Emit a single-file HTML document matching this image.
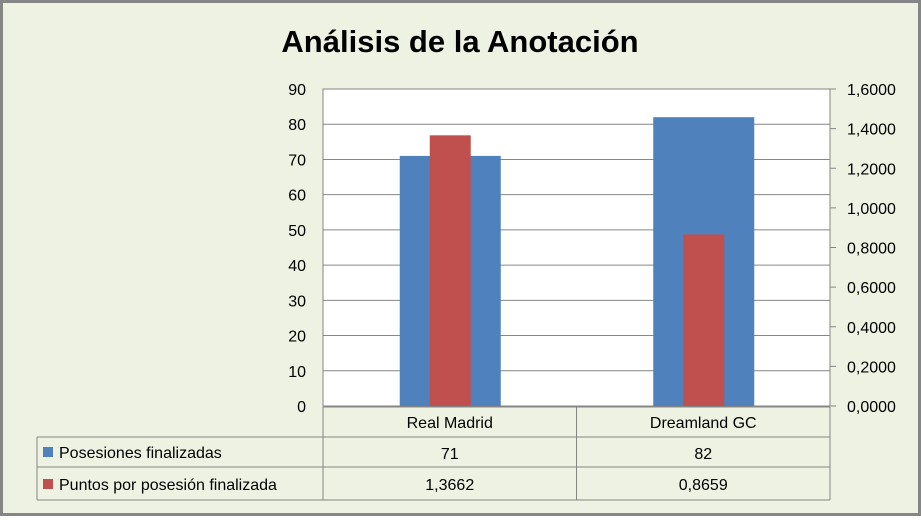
<!DOCTYPE html>
<html><head><meta charset="utf-8"><style>
body{margin:0;background:#fff}
svg text{font-family:"Liberation Sans",sans-serif}
</style></head><body>
<svg width="921" height="516" xmlns="http://www.w3.org/2000/svg">
<rect x="1.5" y="1.5" width="918" height="513" fill="#eef2e3" stroke="#868686" stroke-width="3"/>
<text x="460" y="52" text-anchor="middle" font-size="31" font-weight="bold">Análisis de la Anotación</text>
<rect x="323" y="89" width="507" height="317" fill="#fff" stroke="#868686"/>
<g id="grid"></g><g id="bars"></g><g id="axes"></g><g id="table"></g>
</svg>
<script>
const categories=["Real Madrid","Dreamland GC"];
const posesiones=[71,82];
const puntos=[1.3662,0.8659];
const leftTicks=[0,10,20,30,40,50,60,70,80,90];
const rightTicks=["0,0000","0,2000","0,4000","0,6000","0,8000","1,0000","1,2000","1,4000","1,6000"];
const seriesNames=["Posesiones finalizadas","Puntos por posesión finalizada"];
const puntosLabels=["1,3662","0,8659"];
const NS="http://www.w3.org/2000/svg";
const X0=323,X1=830,Y0=406,Y1=89;
const yL=v=>Y0-(v/90)*(Y0-Y1);
const yR=v=>Y0-(v/1.6)*(Y0-Y1);
const catW=(X1-X0)/categories.length;
const cx=i=>X0+catW*(i+0.5);
function el(tag,attrs,parent,txt){const e=document.createElementNS(NS,tag);for(const k in attrs)e.setAttribute(k,attrs[k]);if(txt!=null)e.textContent=txt;document.getElementById(parent).appendChild(e);return e;}
leftTicks.forEach((t,i)=>{
  if(i>0){const g=el('line',{x1:X0,x2:X1,y1:yL(t),y2:yL(t),stroke:'#868686'},'grid');}
  const tx=el('text',{x:306,y:yL(t)+6,'text-anchor':'end','font-size':16},'axes',String(t));
  
});
rightTicks.forEach((t,i)=>{
  const y=yR(i*0.2);
  const tk=el('line',{x1:X1,x2:X1+6,y1:y,y2:y,stroke:'#868686'},'axes');
  
  const tx=el('text',{x:847,y:y+6,'font-size':16},'axes',t);
  
});
categories.forEach((c,i)=>{
  const b=el('rect',{x:cx(i)-50,y:yL(posesiones[i]),width:101,height:Y0-yL(posesiones[i]),fill:'#4f81bd'},'bars');
  
  const r=el('rect',{x:cx(i)-20,y:yR(puntos[i]),width:41,height:Y0-yR(puntos[i]),fill:'#c0504d'},'bars');
  
});
// table
const rows=[407,437,467,500];
const ln=(a,b,c,d)=>{const l=el('line',{x1:a,y1:b,x2:c,y2:d,stroke:'#868686'},'table');};
ln(X0,407,X1,407);ln(37,437,X1,437);ln(37,467,X1,467);ln(37,500,X1,500);
ln(37,437,37,500);ln(X0,407,X0,500);ln(X0+catW,407,X0+catW,500);ln(X1,407,X1,500);
categories.forEach((c,i)=>{
  const t=el('text',{x:cx(i),y:428,'text-anchor':'middle','font-size':16},'table',c);
  
  const a=el('text',{x:cx(i),y:459,'text-anchor':'middle','font-size':16},'table',String(posesiones[i]));
  
  const b=el('text',{x:cx(i),y:490,'text-anchor':'middle','font-size':16},'table',puntosLabels[i]);
  
});
const cols=['#4f81bd','#c0504d'];
seriesNames.forEach((n,i)=>{
  const y=[452,484][i];
  const k=el('rect',{x:43,y:y-5,width:10,height:10,fill:cols[i]},'table');
  
  const t=el('text',{x:59,y:y+6,'font-size':16},'table',n);
  
});
</script>
</body></html>
